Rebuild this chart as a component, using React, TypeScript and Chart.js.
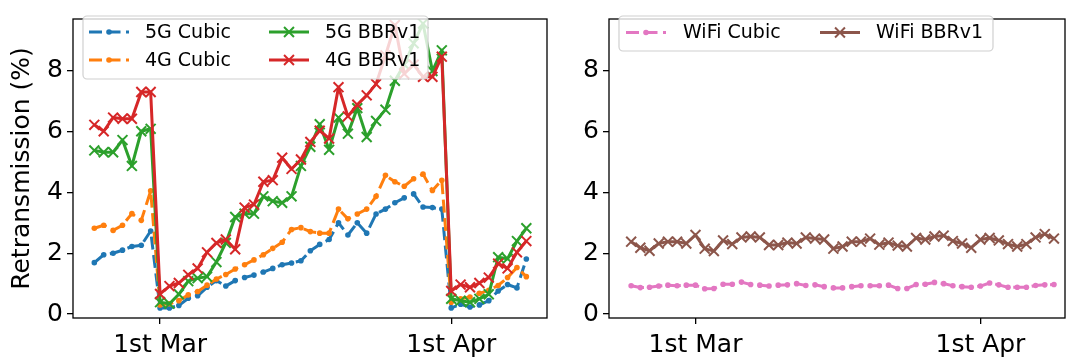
import React, { useEffect, useRef } from 'react';
import { Chart, registerables } from 'chart.js';

Chart.register(...registerables);

// ---- data (days relative to 1st Mar) ----
const DAYS = [
  -7, -6, -5, -4, -3, -2, -1, 0, 1, 2, 3, 4, 5, 6, 7, 8, 9, 10, 11, 12, 13, 14, 15, 16,
  17, 18, 19, 20, 21, 22, 23, 24, 25, 26, 27, 28, 29, 30, 31, 32, 33, 34, 35, 36, 37, 38, 39,
];
const TICK_DAYS = [0, 31];
const TICK_LABELS = ['1st Mar', '1st Apr'];
const Y_TICKS = [0, 2, 4, 6, 8];

const CUBIC_5G = [
  1.69, 1.95, 2.0, 2.1, 2.22, 2.26, 2.73, 0.2, 0.2, 0.28, 0.52, 0.6, 0.88, 1.1, 0.92, 1.1,
  1.2, 1.28, 1.38, 1.5, 1.62, 1.68, 1.75, 2.08, 2.29, 2.45, 3.0, 2.6, 3.0, 2.66, 3.29, 3.45,
  3.66, 3.82, 3.95, 3.52, 3.5, 3.45, 0.2, 0.32, 0.23, 0.3, 0.44, 0.76, 0.97, 0.86, 1.81,
];
const CUBIC_4G = [
  2.82, 2.92, 2.75, 2.92, 3.3, 3.08, 4.05, 0.3, 0.34, 0.44, 0.63, 0.74, 0.95, 1.15, 1.3, 1.48,
  1.62, 1.78, 1.95, 2.16, 2.36, 2.78, 2.84, 2.71, 2.66, 2.66, 3.45, 3.13, 3.29, 3.45, 3.87, 4.56,
  4.35, 4.2, 4.45, 4.6, 4.06, 4.4, 0.39, 0.5, 0.56, 0.68, 0.78, 0.94, 1.2, 1.53, 1.23,
];
const BBR_5G = [
  5.38, 5.32, 5.32, 5.72, 4.87, 6.01, 6.09, 0.39, 0.34, 0.65, 1.08, 1.18, 1.23, 1.71, 2.34, 3.19,
  3.3, 3.3, 3.87, 3.71, 3.66, 3.87, 4.87, 5.5, 6.24, 5.4, 6.46, 5.93, 6.77, 5.82, 6.35, 6.72,
  7.67, 8.2, 8.9, 9.55, 7.99, 8.67, 0.5, 0.44, 0.39, 0.5, 0.65, 1.87, 1.82, 2.4, 2.82,
];
const BBR_4G = [
  6.22, 6.01, 6.46, 6.42, 6.42, 7.3, 7.3, 0.66, 0.92, 1.02, 1.29, 1.5, 2.03, 2.34, 2.45, 2.13,
  3.5, 3.6, 4.35, 4.4, 5.14, 4.77, 5.08, 5.66, 6.03, 5.77, 7.46, 6.5, 6.88, 7.19, 7.56, 8.5,
  9.5, 7.9, 8.2, 7.8, 7.8, 8.46, 0.76, 0.97, 0.88, 1.02, 1.2, 1.66, 1.5, 2.03, 2.4,
];
const WIFI_CUBIC = [
  0.93, 0.87, 0.88, 0.92, 0.95, 0.93, 0.95, 0.95, 0.83, 0.84, 0.98, 0.98, 1.05, 0.97, 0.95, 0.92,
  0.95, 0.96, 1.0, 0.94, 0.96, 0.9, 0.86, 0.86, 0.9, 0.93, 0.93, 0.93, 0.95, 0.84, 0.84, 0.97,
  0.98, 1.04, 1.0, 0.93, 0.9, 0.88, 0.92, 1.02, 0.96, 0.88, 0.88, 0.88, 0.94, 0.96, 0.97,
];
const WIFI_BBR = [
  2.38, 2.18, 2.08, 2.32, 2.38, 2.38, 2.32, 2.6, 2.15, 2.07, 2.42, 2.3, 2.52, 2.55, 2.52, 2.27,
  2.27, 2.35, 2.32, 2.52, 2.48, 2.45, 2.15, 2.22, 2.38, 2.38, 2.48, 2.28, 2.35, 2.25, 2.22, 2.5,
  2.45, 2.55, 2.58, 2.4, 2.32, 2.18, 2.45, 2.5, 2.42, 2.3, 2.22, 2.3, 2.52, 2.63, 2.48,
];

const BLUE = '#1f77b4';
const ORANGE = '#ff7f0e';
const GREEN = '#2ca02c';
const RED = '#d62728';
const PINK = '#e377c2';
const BROWN = '#8c564b';

const FONT = "'DejaVu Sans', sans-serif";
const DASH = [13, 5.5];
const LW = 3;

type Style = 'dot' | 'x';

function series(label: string, values: number[], color: string, style: Style, order: number) {
  const base: any = {
    label,
    data: DAYS.map((d, i) => ({ x: d, y: values[i] })),
    borderColor: color,
    backgroundColor: color,
    borderWidth: LW,
    borderJoinStyle: 'round',
    tension: 0,
    order,
  };
  if (style === 'dot') {
    return {
      ...base,
      borderDash: DASH,
      pointStyle: 'circle',
      pointRadius: 2.8,
      pointBorderWidth: 0,
      pointBackgroundColor: color,
      pointBorderColor: color,
    };
  }
  return {
    ...base,
    pointStyle: 'crossRot',
    pointRadius: 7,
    pointBorderWidth: 2,
    pointBorderColor: color,
    pointBackgroundColor: color,
  };
}

interface LegendItem {
  label: string;
  color: string;
  style: Style;
  x1: number;
  x2: number;
  tx: number;
  y: number;
}
interface LegendSpec {
  x: number;
  y: number;
  w: number;
  h: number;
  items: LegendItem[];
}

function drawMarker(ctx: CanvasRenderingContext2D, style: Style, color: string, x: number, y: number) {
  ctx.save();
  ctx.setLineDash([]);
  if (style === 'dot') {
    ctx.fillStyle = color;
    ctx.beginPath();
    ctx.arc(x, y, 2.8, 0, Math.PI * 2);
    ctx.fill();
  } else {
    const r = 7 * Math.SQRT1_2;
    ctx.strokeStyle = color;
    ctx.lineWidth = 2;
    ctx.beginPath();
    ctx.moveTo(x - r, y - r);
    ctx.lineTo(x + r, y + r);
    ctx.moveTo(x + r, y - r);
    ctx.lineTo(x - r, y + r);
    ctx.stroke();
  }
  ctx.restore();
}

function framePlugin(legend: LegendSpec) {
  return {
    id: 'frameAndLegend',
    afterDraw(chart: any) {
      const ctx: CanvasRenderingContext2D = chart.ctx;
      const a = chart.chartArea;
      ctx.save();
      // spines
      ctx.strokeStyle = '#000';
      ctx.lineWidth = 1.3;
      ctx.setLineDash([]);
      ctx.strokeRect(a.left, a.top, a.right - a.left, a.bottom - a.top);
      // legend box
      ctx.beginPath();
      if ((ctx as any).roundRect) (ctx as any).roundRect(legend.x, legend.y, legend.w, legend.h, 4);
      else ctx.rect(legend.x, legend.y, legend.w, legend.h);
      ctx.fillStyle = 'rgba(255,255,255,0.8)';
      ctx.fill();
      ctx.strokeStyle = '#d0d0d0';
      ctx.lineWidth = 1.2;
      ctx.stroke();
      for (const it of legend.items) {
        ctx.save();
        ctx.strokeStyle = it.color;
        ctx.lineWidth = LW;
        ctx.lineCap = 'butt';
        ctx.setLineDash(it.style === 'dot' ? DASH : []);
        ctx.beginPath();
        ctx.moveTo(it.x1, it.y);
        ctx.lineTo(it.x2, it.y);
        ctx.stroke();
        ctx.restore();
        drawMarker(ctx, it.style, it.color, (it.x1 + it.x2) / 2, it.y);
        ctx.fillStyle = '#000';
        ctx.font = `19px ${FONT}`;
        ctx.textAlign = 'left';
        ctx.textBaseline = 'middle';
        ctx.fillText(it.label, it.tx, it.y + 1);
      }
      ctx.restore();
    },
  };
}

function makeOptions(xmin: number, xmax: number, yWidth: number, padRight: number, withTitle: boolean) {
  const tickFont = { family: FONT, size: 25 };
  const grid = {
    display: true,
    drawOnChartArea: false,
    drawTicks: true,
    tickLength: 6,
    color: '#000',
    lineWidth: 1.3,
  };
  return {
    animation: false,
    responsive: false,
    maintainAspectRatio: false,
    events: [],
    layout: { padding: { top: 7, right: padRight, left: 0, bottom: 0 } },
    plugins: { legend: { display: false }, tooltip: { enabled: false } },
    scales: {
      x: {
        type: 'linear',
        min: xmin,
        max: xmax,
        afterBuildTicks: (s: any) => {
          s.ticks = TICK_DAYS.map((v) => ({ value: v }));
        },
        afterFit: (s: any) => {
          s.height = 42;
        },
        ticks: {
          callback: (v: number) => {
            const i = TICK_DAYS.indexOf(v);
            return i >= 0 ? TICK_LABELS[i] : '';
          },
          font: tickFont,
          color: '#000',
          padding: 6,
          maxRotation: 0,
          autoSkip: false,
        },
        grid,
        border: { display: false },
      },
      y: {
        type: 'linear',
        min: -0.13,
        max: 9.7,
        afterBuildTicks: (s: any) => {
          s.ticks = Y_TICKS.map((v) => ({ value: v }));
        },
        afterFit: (s: any) => {
          s.width = yWidth;
        },
        ticks: {
          callback: (v: number) => String(v),
          font: tickFont,
          color: '#000',
          padding: 4,
          autoSkip: false,
        },
        grid,
        border: { display: false },
        title: {
          display: withTitle,
          text: 'Retransmission (%)',
          font: { family: FONT, size: 25 },
          color: '#000',
          padding: { top: 7, bottom: 0 },
        },
      },
    },
  };
}

function ChartBox(props: { left: number; width: number; config: () => any }) {
  const ref = useRef<HTMLCanvasElement | null>(null);
  useEffect(() => {
    if (!ref.current) return;
    const chart = new Chart(ref.current, props.config());
    return () => chart.destroy();
  }, []);
  return (
    <canvas
      ref={ref}
      width={props.width}
      height={360}
      style={{ position: 'absolute', left: props.left, top: 0, width: props.width, height: 360, display: 'block' }}
    />
  );
}

const leftLegend: LegendSpec = {
  x: 83,
  y: 16,
  w: 345,
  h: 63,
  items: [
    { label: '5G Cubic', color: BLUE, style: 'dot', x1: 89, x2: 129, tx: 145, y: 32 },
    { label: '4G Cubic', color: ORANGE, style: 'dot', x1: 89, x2: 129, tx: 145, y: 60 },
    { label: '5G BBRv1', color: GREEN, style: 'x', x1: 269, x2: 309, tx: 325, y: 32 },
    { label: '4G BBRv1', color: RED, style: 'x', x1: 269, x2: 309, tx: 325, y: 60 },
  ],
};

const rightLegend: LegendSpec = {
  x: 59,
  y: 16,
  w: 374,
  h: 35,
  items: [
    { label: 'WiFi Cubic', color: PINK, style: 'dot', x1: 66, x2: 106, tx: 123, y: 32.5 },
    { label: 'WiFi BBRv1', color: BROWN, style: 'x', x1: 260, x2: 300, tx: 316, y: 32.5 },
  ],
};

const leftConfig = () => ({
  type: 'line',
  data: {
    datasets: [
      series('5G Cubic', CUBIC_5G, BLUE, 'dot', 4),
      series('4G Cubic', CUBIC_4G, ORANGE, 'dot', 3),
      series('5G BBRv1', BBR_5G, GREEN, 'x', 2),
      series('4G BBRv1', BBR_4G, RED, 'x', 1),
    ],
  },
  options: makeOptions(-9.27, 41.2, 73, 13, true),
  plugins: [framePlugin(leftLegend)],
});

const rightConfig = () => ({
  type: 'line',
  data: {
    datasets: [
      series('WiFi Cubic', WIFI_CUBIC, PINK, 'dot', 2),
      series('WiFi BBRv1', WIFI_BBR, BROWN, 'x', 1),
    ],
  },
  options: makeOptions(-9.41, 40.2, 49, 1, false),
  plugins: [framePlugin(rightLegend)],
});

export default function App() {
  return (
    <div style={{ position: 'absolute', left: 0, top: 0, width: 1074, height: 360, background: '#fff', overflow: 'hidden' }}>
      <ChartBox left={0} width={560} config={leftConfig} />
      <ChartBox left={560} width={514} config={rightConfig} />
    </div>
  );
}
